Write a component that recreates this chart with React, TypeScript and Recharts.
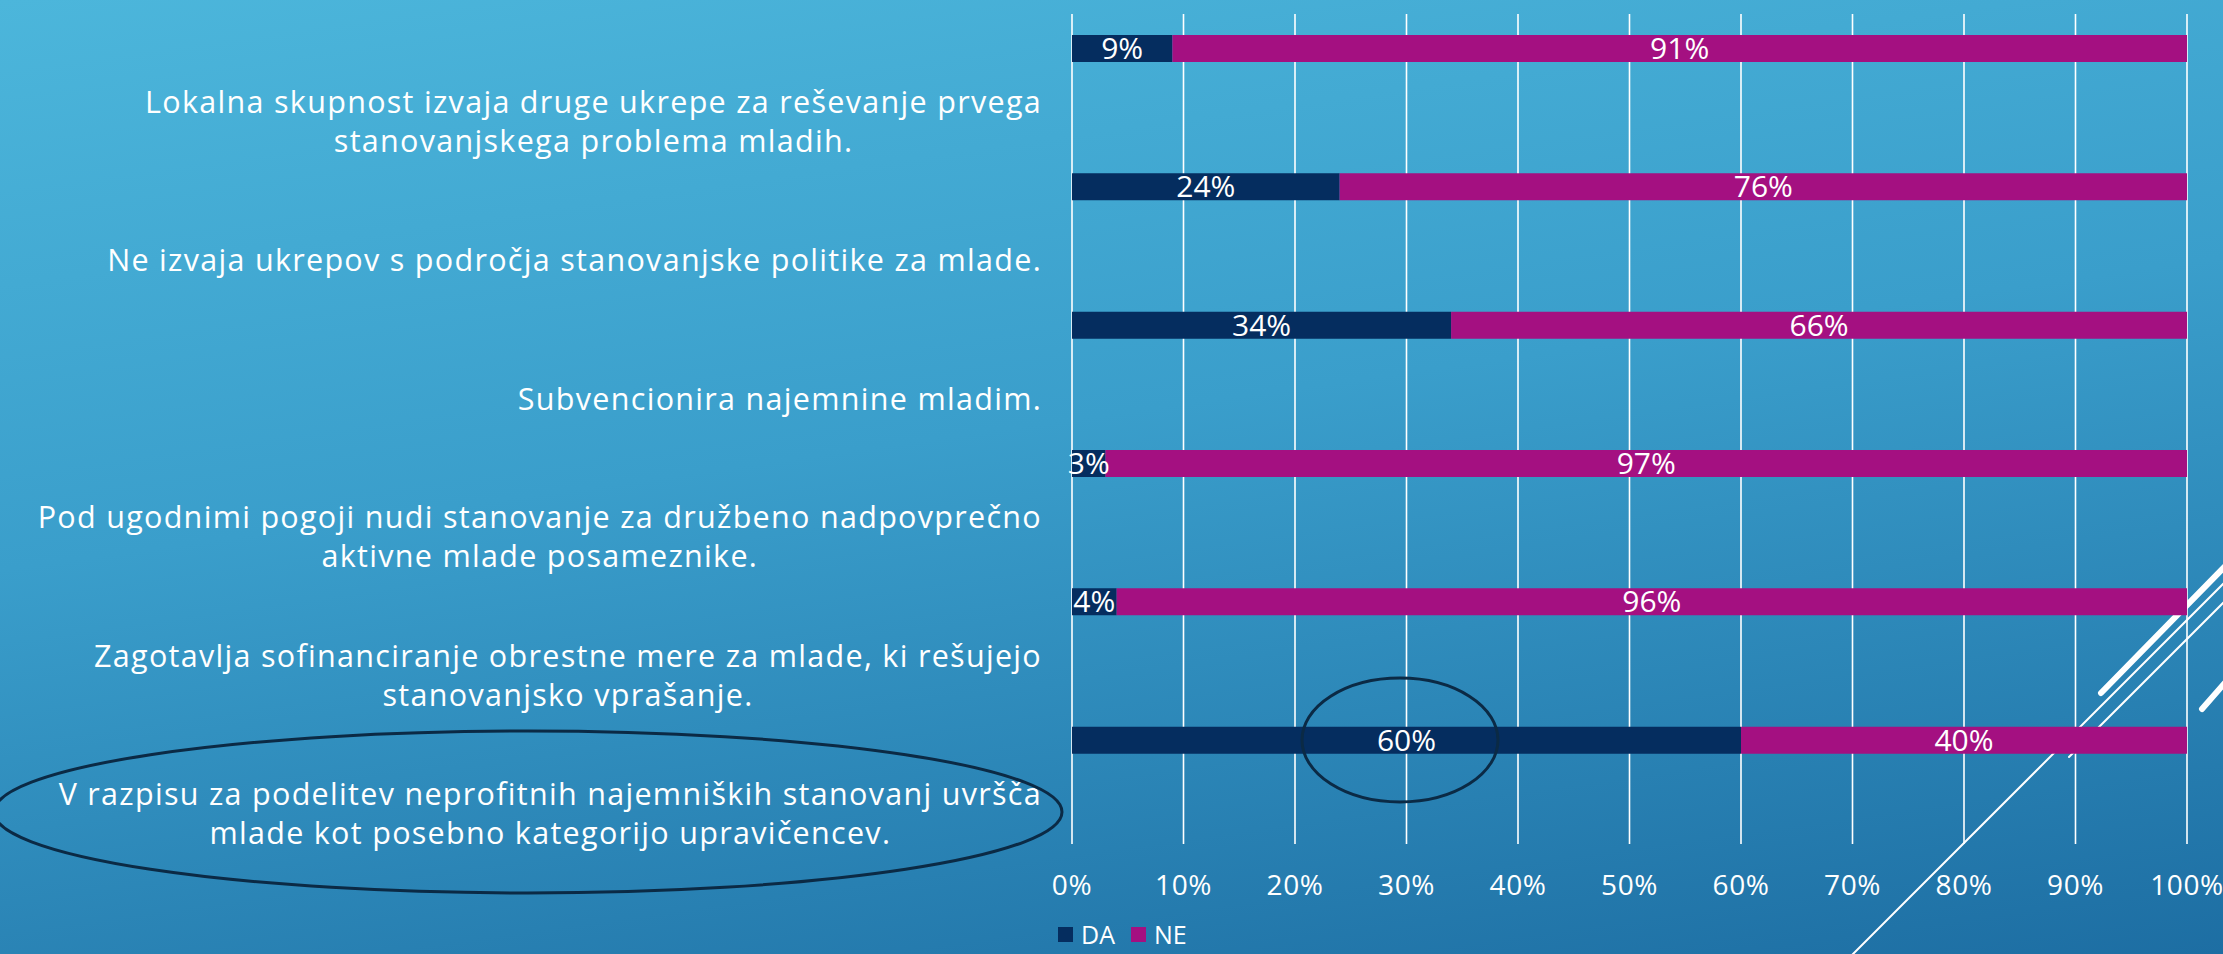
import { BarChart, Bar, XAxis, YAxis, CartesianGrid, Legend, LabelList } from 'recharts';

const categories = [
  'Lokalna skupnost izvaja druge ukrepe za reševanje prvega\nstanovanjskega problema mladih.',
  'Ne izvaja ukrepov s področja stanovanjske politike za mlade.',
  'Subvencionira najemnine mladim.',
  'Pod ugodnimi pogoji nudi stanovanje za družbeno nadpovprečno\naktivne mlade posameznike.',
  'Zagotavlja sofinanciranje obrestne mere za mlade, ki rešujejo\nstanovanjsko vprašanje.',
  'V razpisu za podelitev neprofitnih najemniških stanovanj uvršča\nmlade kot posebno kategorijo upravičencev.',
];
const daValues = [9, 24, 34, 3, 4, 60];
const neValues = [91, 76, 66, 97, 96, 40];
const xTicks = [0, 10, 20, 30, 40, 50, 60, 70, 80, 90, 100];

const data = categories.map((name, i) => ({ name, DA: daValues[i], NE: neValues[i] }));

const FONT = '"Open Sans", "DejaVu Sans", sans-serif';
const DA_COLOR = '#052d5f';
const NE_COLOR = '#a41081';

const LABEL_SIZE = 30.5;
const LABEL_SPACING = 1.3;

const ctx = document.createElement('canvas').getContext('2d');
const textWidth = (s: string, size: number, spacing: number) => {
  if (!ctx) return s.length * (size * 0.5 + spacing);
  ctx.font = `${size}px "Open Sans"`;
  return ctx.measureText(s).width + s.length * spacing;
};

// category labels sit below their bars in the original slide
const CategoryTick = ({ x, y, payload }: any) => {
  const lines = String(payload.value).split('\n');
  const w = Math.max(...lines.map((l) => textWidth(l, LABEL_SIZE, LABEL_SPACING)));
  const cx = x - w / 2;
  const lh = 39;
  const top = y + 74 - ((lines.length - 1) * lh) / 2;
  return (
    <text textAnchor="middle" fill="#fff" fontSize={LABEL_SIZE} letterSpacing={LABEL_SPACING} fontFamily={FONT}>
      {lines.map((l, i) => (
        <tspan key={i} x={cx} y={top + i * lh} dy="0.35em">{l}</tspan>
      ))}
    </text>
  );
};

const PercentTick = ({ x, y, payload }: any) => (
  <text x={x} y={y + 39} dy="0.35em" textAnchor="middle" fill="#fff" fontSize={28} letterSpacing={0.6} fontFamily={FONT}>
    {`${payload.value}%`}
  </text>
);

const LegendBox = ({ payload }: any) => (
  <div style={{ display: 'flex', alignItems: 'center', fontFamily: FONT, fontSize: 25, lineHeight: '26px', color: '#fff' }}>
    {(payload || []).map((p: any) => (
      <div key={p.value} style={{ display: 'flex', alignItems: 'center', marginRight: 16 }}>
        <span style={{ width: 15, height: 15, background: p.color, marginRight: 8, display: 'inline-block' }} />
        <span>{p.value}</span>
      </div>
    ))}
  </div>
);

export default function App() {
  return (
    <div
      style={{
        position: 'fixed', left: 0, top: 0, width: 2223, height: 954, overflow: 'hidden',
        background: 'linear-gradient(172deg, #4cb6db 0%, #3a9ecb 45%, #1d6ea3 100%)',
      }}
    >
      <svg width={2223} height={954} style={{ position: 'absolute', left: 0, top: 0 }}>
        <g stroke="#fff" fill="none" strokeLinecap="round">
          <line x1={2240} y1={551} x2={2101} y2={693} strokeWidth={6} />
          <line x1={2240} y1={567} x2={1845} y2={962} strokeWidth={2} />
          <line x1={2240} y1={586} x2={2069} y2={757} strokeWidth={2} />
          <line x1={2245} y1={660} x2={2202} y2={709} strokeWidth={6} />
        </g>
      </svg>
      <div style={{ position: 'absolute', left: 0, top: 0 }}>
        <BarChart
          width={2223}
          height={954}
          data={data}
          layout="vertical"
          margin={{ top: 14, right: 36, bottom: 0, left: 0 }}
        >
          <CartesianGrid horizontal={false} stroke="#fff" strokeWidth={1.6} />
          <XAxis
            type="number"
            domain={[0, 100]}
            ticks={xTicks}
            axisLine={false}
            tickLine={false}
            tickSize={0}
            height={110}
            tick={<PercentTick />}
            interval={0}
          />
          <YAxis
            type="category"
            dataKey="name"
            width={1072}
            axisLine={false}
            tickLine={false}
            tickSize={0}
            tickMargin={30}
            padding={{ top: -35, bottom: 35 }}
            tick={<CategoryTick />}
            interval={0}
          />
          <Legend
            verticalAlign="middle"
            align="center"
            layout="horizontal"
            wrapperStyle={{ left: 1058, top: 921, width: 300 }}
            content={<LegendBox />}
          />
          <Bar dataKey="DA" stackId="a" fill={DA_COLOR} barSize={27} isAnimationActive={false}>
            <LabelList dataKey="DA" position="center" formatter={(v: any) => `${v}%`} fill="#fff" fontSize={30} fontFamily={FONT} />
          </Bar>
          <Bar dataKey="NE" stackId="a" fill={NE_COLOR} barSize={27} isAnimationActive={false}>
            <LabelList dataKey="NE" position="center" formatter={(v: any) => `${v}%`} fill="#fff" fontSize={30} fontFamily={FONT} />
          </Bar>
        </BarChart>
      </div>
      <svg width={2223} height={954} style={{ position: 'absolute', left: 0, top: 0, pointerEvents: 'none' }}>
        <ellipse cx={528} cy={812} rx={534} ry={81} fill="none" stroke="#0b2a45" strokeWidth={3} />
        <ellipse cx={1400} cy={740} rx={98} ry={62} fill="none" stroke="#0b2a45" strokeWidth={3} />
      </svg>
    </div>
  );
}
